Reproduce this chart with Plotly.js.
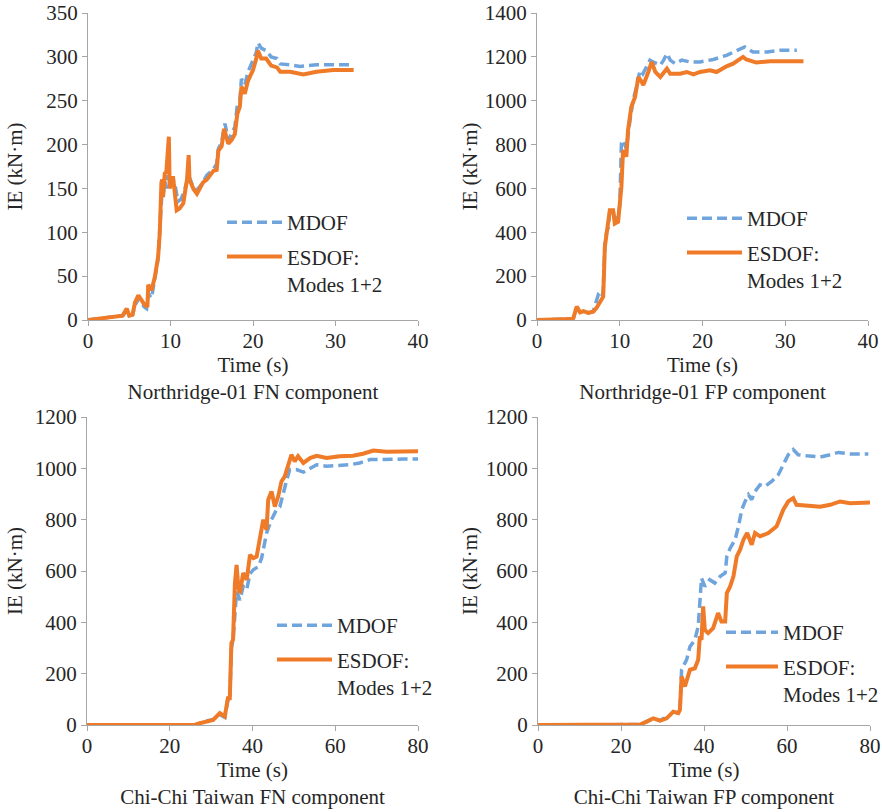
<!DOCTYPE html>
<html>
<head>
<meta charset="utf-8">
<script src="https://cdn.plot.ly/plotly-3.0.1.min.js"></script>
<style>html,body{margin:0;padding:0;background:#fff;}#chart{width:882px;height:812px;}</style>
</head>
<body>
<div id="chart"></div>
<script>
// ---- Northridge-01 FN component ----
const nfn_t_mdof = [0,1,2,3,3.5,4.2,4.7,5.0,5.4,5.7,6.2,6.5,6.8,7.1,7.3,7.7,8.1,8.5,8.7,8.9,9.0,9.1,9.3,9.5,9.7,9.9,10.1,10.5,10.9,11.3,11.7,12.2,12.4,12.8,13.2,13.8,14.4,15.2,15.6,15.8,16.2,16.6,17.0,17.4,17.8,18.1,18.4,18.6,19.0,19.4,20.0,20.4,20.6,21.0,21.6,22.2,22.9,23.3,24.5,25.7,27.7,29.7,32.2];
const nfn_v_mdof = [0,1,2,3,4,5,10,5,6,17,25,20,15,13,30,25,45,70,105,135,150,140,160,150,165,155,162,157,135,138,148,165,160,150,148,155,165,172,178,195,203,224,205,212,220,245,250,275,268,283,295,305,316,310,307,300,298,292,291,289,291,291,291];
const nfn_t_esdof = [0,1,2,3,3.5,4.2,4.7,5.0,5.4,5.7,6.1,6.5,6.8,7.2,7.3,7.7,8.1,8.5,8.7,8.9,9.0,9.1,9.3,9.5,9.8,9.9,10.3,10.75,11.1,11.55,12.0,12.2,12.3,12.8,13.2,13.95,14.4,15.2,15.6,15.8,16.2,16.5,17.0,17.4,17.8,18.1,18.4,18.6,19.0,19.4,20.0,20.4,20.6,21.0,21.6,22.2,22.9,23.3,24.5,26.1,27.7,29.7,32.2];
const nfn_v_esdof = [0,1,2,3,4,5,13,5,6,20,28,22,18,15,40,34,49,72,99,157,160,140,167,169,209,150,164,125,127,133,160,188,160,149,144,157,160,170,171,193,198,218,201,205,212,235,243,266,258,273,285,298,307,298,298,290,288,283,283,280,283,285,285];

// ---- Northridge-01 FP component ----
const nfp_t_mdof = [0,2,4.0,4.4,4.8,5.2,5.6,6.2,6.8,7.4,7.8,8.0,8.2,8.4,8.6,8.8,9.2,9.4,9.8,10.0,10.2,10.4,10.8,11.2,11.6,12.0,12.45,12.8,13.3,13.65,14.0,14.5,14.9,15.3,15.7,16.1,16.7,17.5,18.5,19.7,21.3,22.9,24.1,25.1,26.1,27.8,29.4,31.4];
const nfp_v_mdof = [0,2,4,9,55,35,40,32,40,114,100,130,340,400,420,495,495,460,470,520,805,820,780,900,1000,1060,1139,1123,1160,1185,1177,1169,1162,1185,1215,1185,1169,1185,1177,1177,1188,1207,1230,1245,1222,1222,1230,1230];
const nfp_t_esdof = [0,2,4.0,4.4,4.8,5.2,5.6,6.2,6.8,7.2,7.6,8.0,8.2,8.4,8.6,8.8,9.2,9.4,9.8,10.2,10.4,10.8,11.0,11.4,11.85,12.25,12.65,12.85,13.45,13.86,14.3,14.9,15.7,16.1,17.3,18.1,18.9,19.7,20.9,21.7,22.9,23.7,24.9,25.3,26.5,28.2,32.2];
const nfp_v_esdof = [0,2,4,9,61,35,40,32,38,55,77,106,334,395,420,501,501,440,448,607,774,745,866,972,1017,1108,1086,1071,1131,1177,1131,1108,1146,1123,1123,1131,1120,1131,1139,1131,1157,1169,1200,1188,1174,1180,1180];

// ---- Chi-Chi Taiwan FN component ----
const cfn_t_mdof = [0,10,20,26,27.3,28.5,30.5,32.1,33.3,34.1,34.5,34.9,35.3,35.75,36.15,36.95,37.75,38.6,39.4,40.2,41.4,42.2,43.4,44.6,45.8,46.6,47.4,48.2,49.0,50.6,52.3,53.9,55.5,57.9,60.3,63.5,65.9,68.4,70.8,73.2,76.4,80];
const cfn_v_mdof = [0,0,0,0,7,15,22,40,30,100,95,300,330,449,520,487,540,527,590,605,617,650,748,800,839,850,904,950,995,995,985,1001,1014,1008,1010,1014,1021,1034,1034,1036,1036,1036];
const cfn_t_esdof = [0,10,20,26,27.3,28.5,30.5,32.1,33.3,34.1,34.5,34.9,35.3,35.75,36.15,36.55,36.95,37.75,38.6,39.4,40.2,41.0,41.8,42.6,43.4,43.8,44.6,45.4,46.2,47.0,47.8,48.6,49.4,50.2,51.0,52.3,53.9,55.5,57.9,61.1,64.3,66.7,69.2,72.4,75.6,80];
const cfn_v_esdof = [0,0,0,0,7,13,20,46,33,110,98,319,332,553,624,540,514,592,566,663,650,656,721,800,760,878,910,851,890,949,969,1008,1053,1027,1047,1021,1040,1049,1040,1047,1049,1057,1069,1065,1067,1067];

// ---- Chi-Chi Taiwan FP component ----
const cfp_t_mdof = [0,10,20,24.6,26.2,27.8,29.4,30.2,31.0,32.6,33.8,34.2,34.6,35.8,36.6,37.8,38.6,39.0,39.4,40.2,41.4,42.6,43.9,45.1,45.5,46.3,47.5,48.3,49.1,49.9,50.7,51.5,52.3,53.5,54.7,56.3,57.9,59.5,60.3,61.5,62.7,64.7,68.0,70.4,72.4,75.2,79.6];
const cfp_v_mdof = [0,0,0,2,13,26,17,25,26,52,46,59,215,254,305,332,384,462,572,540,566,553,579,592,657,689,722,774,839,871,897,878,910,936,930,949,975,1027,1053,1073,1053,1049,1044,1053,1062,1056,1056];
const cfp_t_esdof = [0,10,20,24.6,26.2,27.8,29.4,30.2,31.0,32.6,33.8,34.2,34.6,35.4,36.6,37.8,38.6,39.0,39.4,39.8,40.2,41.0,42.2,43.4,44.2,45.1,45.5,46.3,47.1,47.9,48.7,49.5,50.4,51.5,52.3,53.5,55.5,57.5,57.9,58.5,59.1,60.3,61.5,62.3,64.7,68.0,70.4,72.8,75.2,80];
const cfp_v_esdof = [0,0,0,2,13,26,17,20,26,52,46,59,189,150,215,221,254,345,332,462,370,358,377,436,403,403,514,540,579,657,683,722,748,702,748,735,748,774,793,812,839,871,884,858,854,850,858,871,864,867];

// ---- labels ----
const seriesNames = ['MDOF', 'ESDOF:<br>Modes 1+2'];
const panelTitles = ['Northridge-01 FN component', 'Northridge-01 FP component', 'Chi-Chi Taiwan FN component', 'Chi-Chi Taiwan FP component'];
const xTitle = 'Time (s)';
const yTitle = 'IE (kN·m)';

const BLUE = '#6fa5dc';
const ORANGE = '#ef7a28';
const FONT = 'Liberation Serif';
const FS = 21;
const W = 882, H = 812;

const panels = [
  {tm: nfn_t_mdof, vm: nfn_v_mdof, te: nfn_t_esdof, ve: nfn_v_esdof},
  {tm: nfp_t_mdof, vm: nfp_v_mdof, te: nfp_t_esdof, ve: nfp_v_esdof},
  {tm: cfn_t_mdof, vm: cfn_v_mdof, te: cfn_t_esdof, ve: cfn_v_esdof},
  {tm: cfp_t_mdof, vm: cfp_v_mdof, te: cfp_t_esdof, ve: cfp_v_esdof}
];

const traces = [];
panels.forEach((p, i) => {
  const sfx = i === 0 ? '' : String(i + 1);
  const leg = 'legend' + sfx;
  traces.push({x: p.tm, y: p.vm, xaxis: 'x' + sfx, yaxis: 'y' + sfx, type: 'scatter', mode: 'lines',
    name: seriesNames[0], legend: leg, legendgroup: 'm' + i, cliponaxis: false,
    line: {color: BLUE, width: 3.5, dash: '10px,5px'}});
  traces.push({x: p.te, y: p.ve, xaxis: 'x' + sfx, yaxis: 'y' + sfx, type: 'scatter', mode: 'lines',
    name: seriesNames[1], legend: leg, legendgroup: 'e' + i, cliponaxis: false,
    line: {color: ORANGE, width: 4}});
});

// pixel boxes [left, right, top, bottom]
const boxes = [[88, 418, 13, 320], [537, 868, 13, 320], [87, 418, 417, 725], [538, 870, 417, 725]];
const xr = [[0, 40, 10], [0, 40, 10], [0, 80, 20], [0, 80, 20]];
const yr = [[0, 350, 50], [0, 1400, 200], [0, 1200, 200], [0, 1200, 200]];
const ystand = [17, 1, 6, 2];
const legPos = [[222, 202], [682, 198], [272, 605], [721, 612]];
const legItemW = [55, 55, 55, 52];

const tickfont = {family: FONT, size: FS, color: '#262626'};
const layout = {
  width: W, height: H, margin: {l: 0, r: 0, t: 0, b: 0, autoexpand: false},
  paper_bgcolor: '#fff', plot_bgcolor: '#fff', showlegend: true,
  font: {family: FONT, size: FS, color: '#262626'}
};
boxes.forEach((b, i) => {
  const sfx = i === 0 ? '' : String(i + 1);
  const common = {showgrid: false, zeroline: false, showline: true, linecolor: '#a6a6a6', linewidth: 1,
    ticks: 'outside', ticklen: 5, tickcolor: '#a6a6a6', tickwidth: 1, tickfont: tickfont, fixedrange: true};
  layout['xaxis' + sfx] = Object.assign({}, common, {
    domain: [b[0] / W, b[1] / W], anchor: 'y' + sfx,
    range: [xr[i][0], xr[i][1]], tick0: 0, dtick: xr[i][2], ticklabelstandoff: -3,
    title: {text: xTitle + '<br>' + panelTitles[i], font: {family: FONT, size: FS, color: '#262626'}, standoff: 2}
  });
  layout['yaxis' + sfx] = Object.assign({}, common, {
    domain: [1 - b[3] / H, 1 - b[2] / H], anchor: 'x' + sfx,
    range: [yr[i][0], yr[i][1]], tick0: 0, dtick: yr[i][2],
    title: {text: yTitle, font: {family: FONT, size: FS, color: '#262626'}, standoff: ystand[i]}
  });
  layout['legend' + sfx] = {
    x: legPos[i][0] / W, y: 1 - legPos[i][1] / H, xanchor: 'left', yanchor: 'top',
    bgcolor: 'rgba(0,0,0,0)', borderwidth: 0, itemwidth: legItemW[i], valign: 'top',
    traceorder: 'grouped', tracegroupgap: 4,
    font: {family: FONT, size: FS, color: '#262626'}
  };
});

Plotly.newPlot('chart', traces, layout, {displayModeBar: false, staticPlot: true});
</script>
</body>
</html>
